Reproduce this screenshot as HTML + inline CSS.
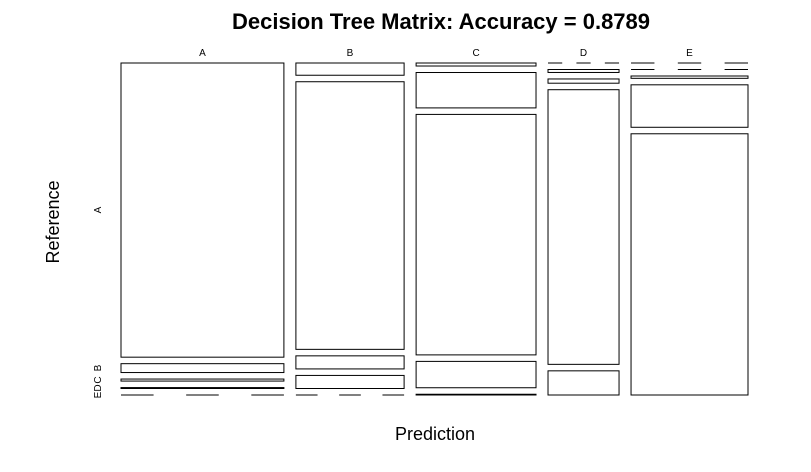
<!DOCTYPE html>
<html><head><meta charset="utf-8"><style>
body{margin:0;background:#fff;}
svg text{font-family:"Liberation Sans",sans-serif;}
</style></head><body>
<svg id="chart" width="811" height="467" viewBox="0 0 811 467" xmlns="http://www.w3.org/2000/svg">
<rect width="811" height="467" fill="#fff"/>
<text x="441" y="29" font-size="22" font-weight="bold" text-anchor="middle">Decision Tree Matrix: Accuracy = 0.8789</text>
<text x="435" y="440" font-size="18" text-anchor="middle">Prediction</text>
<text transform="translate(59,222) rotate(-90)" font-size="18" text-anchor="middle">Reference</text>
<g id="marks"></g>
</svg>
<script>
const predictionLabels = ["A","B","C","D","E"];
const referenceLabels = ["A","B","C","D","E"];
// counts[prediction][reference]
const countsPredA = [1592,48,11,5,0];
const countsPredB = [44,962,47,47,0];
const countsPredC = [12,141,958,105,3];
const countsPredD = [0,7,10,648,57];
const countsPredE = [0,0,9,165,1015];
const counts = [countsPredA,countsPredB,countsPredC,countsPredD,countsPredE];

const NS="http://www.w3.org/2000/svg";
const g=document.getElementById('marks');
const X0=121,X1=748,Y0=63,Y1=395,GX=12,GY=6.5;
const colTot=counts.map(c=>c.reduce((a,b)=>a+b,0));
const grand=colTot.reduce((a,b)=>a+b,0);
const availW=(X1-X0)-GX*(counts.length-1);
const availH=(Y1-Y0)-GY*(referenceLabels.length-1);
function xScale(v){return v/grand*availW;}
function yScale(v,tot){return v/tot*availH;}
let x=X0;
counts.forEach((col,i)=>{
  const w=xScale(colTot[i]);
  const lab=document.createElementNS(NS,'text');
  
  
  lab.setAttribute('x',x+w/2);lab.setAttribute('y',56);
  lab.setAttribute('font-size','10');lab.setAttribute('text-anchor','middle');
  lab.textContent=predictionLabels[i];g.appendChild(lab);
  let y=Y0;
  col.forEach((v,j)=>{
    const h=yScale(v,colTot[i]);
    if(v===0){
      const l=document.createElementNS(NS,'line');
      
      
      l.setAttribute('x1',x);l.setAttribute('x2',x+w);
      l.setAttribute('y1',y);l.setAttribute('y2',y);
      l.setAttribute('stroke','#000');l.setAttribute('stroke-width','1');
      l.setAttribute('stroke-dasharray',(w/5)+' '+(w/5));
      g.appendChild(l);
    } else {
      const r=document.createElementNS(NS,'rect');
      
      
      r.setAttribute('x',x);r.setAttribute('y',y);
      r.setAttribute('width',w);r.setAttribute('height',Math.max(h,0.5));
      r.setAttribute('fill','#fff');r.setAttribute('stroke','#000');r.setAttribute('stroke-width','1');
      g.appendChild(r);
    }
    if(i===0){
      const t=document.createElementNS(NS,'text');
      
      
      t.setAttribute('transform','translate(101,'+(y+h/2)+') rotate(-90)');
      t.setAttribute('font-size','10');t.setAttribute('text-anchor','middle');
      t.textContent=referenceLabels[j];g.appendChild(t);
    }
    y+=h+GY;
  });
  x+=w+GX;
});
</script>
</body></html>
